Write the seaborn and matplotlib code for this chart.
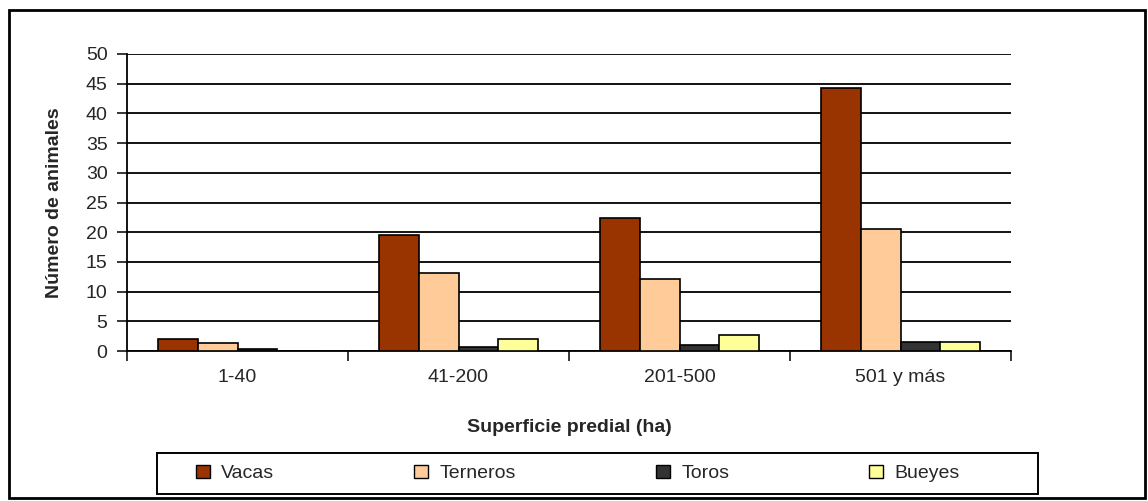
import numpy as np
import pandas as pd
import seaborn as sns
import matplotlib.pyplot as plt
from matplotlib.patches import Rectangle

# data
categorias = ["1-40", "41-200", "201-500", "501 y más"]
vacas = [2.0, 19.5, 22.4, 44.3]
terneros = [1.3, 13.1, 12.1, 20.5]
toros = [0.3, 0.7, 1.0, 1.5]
bueyes = [0.0, 2.0, 2.7, 1.5]

series = ["Vacas", "Terneros", "Toros", "Bueyes"]
colores = ["#993300", "#FFCC99", "#333333", "#FFFF99"]

df = pd.DataFrame({
    "Superficie": categorias * 4,
    "Tipo": np.repeat(series, len(categorias)),
    "Valor": vacas + terneros + toros + bueyes,
})

sns.set_style("white")
plt.rcParams["font.family"] = ["Liberation Sans", "DejaVu Sans"]

W, H = 1148, 501
fig = plt.figure(figsize=(W / 100, H / 100), dpi=100)
ax = fig.add_axes([127 / W, 1 - 351 / H, (1011 - 127) / W, (351 - 54) / H])

sns.barplot(data=df, x="Superficie", y="Valor", hue="Tipo", order=categorias,
            hue_order=series, palette=colores, width=0.72, saturation=1,
            edgecolor="black", linewidth=1.2, legend=False, ax=ax, zorder=3)

ax.set_ylim(0, 50)
ax.set_xlim(-0.5, len(categorias) - 0.5)
ax.set_yticks(np.arange(0, 51, 5))
ax.yaxis.grid(True, color="black", linewidth=1.3, zorder=0)
ax.set_axisbelow(True)

for s in ["top", "right"]:
    ax.spines[s].set_visible(False)
for s in ["left", "bottom"]:
    ax.spines[s].set_linewidth(1.3)
    ax.spines[s].set_color("black")

fs = 14
ax.tick_params(axis="y", direction="out", length=7, width=1.3, labelsize=fs, pad=7, left=True)
ax.tick_params(axis="x", which="major", length=0, labelsize=fs, pad=13)
ax.set_xticks(np.arange(-0.5, len(categorias)), minor=True)
ax.tick_params(axis="x", which="minor", direction="out", length=7, width=1.3, bottom=True)

ax.set_xlabel("Superficie predial (ha)", fontsize=fs, fontweight="bold", va="center")
ax.xaxis.set_label_coords(0.5, (351 - 427) / 297)
ax.set_ylabel("Número de animales", fontsize=fs, fontweight="bold", va="center", ha="center")
ax.yaxis.set_label_coords((55 - 127) / 884, 0.5)

# legend: entries spread inside an Excel-style box
handles = [Rectangle((0, 0), 1, 1, facecolor=c, edgecolor="black", linewidth=1) for c in colores]
leg = fig.legend(handles, series, loc="center left", ncol=4,
                 bbox_to_anchor=(196 / W, 1 - 473.5 / H),
                 frameon=False, fontsize=fs, handlelength=0.7,
                 handleheight=0.7, handletextpad=0.6, columnspacing=7.2,
                 borderpad=0, borderaxespad=0)

fig.patches.append(Rectangle((157 / W, 1 - 494 / H), (1038 - 157) / W, (494 - 453) / H,
                             transform=fig.transFigure, fill=False,
                             edgecolor="black", linewidth=1.4))
fig.patches.append(Rectangle((9 / W, 1 - 498 / H), (1145 - 9) / W, (498 - 10) / H,
                             transform=fig.transFigure, fill=False,
                             edgecolor="black", linewidth=2))

fig.savefig("out.png", dpi=100)
